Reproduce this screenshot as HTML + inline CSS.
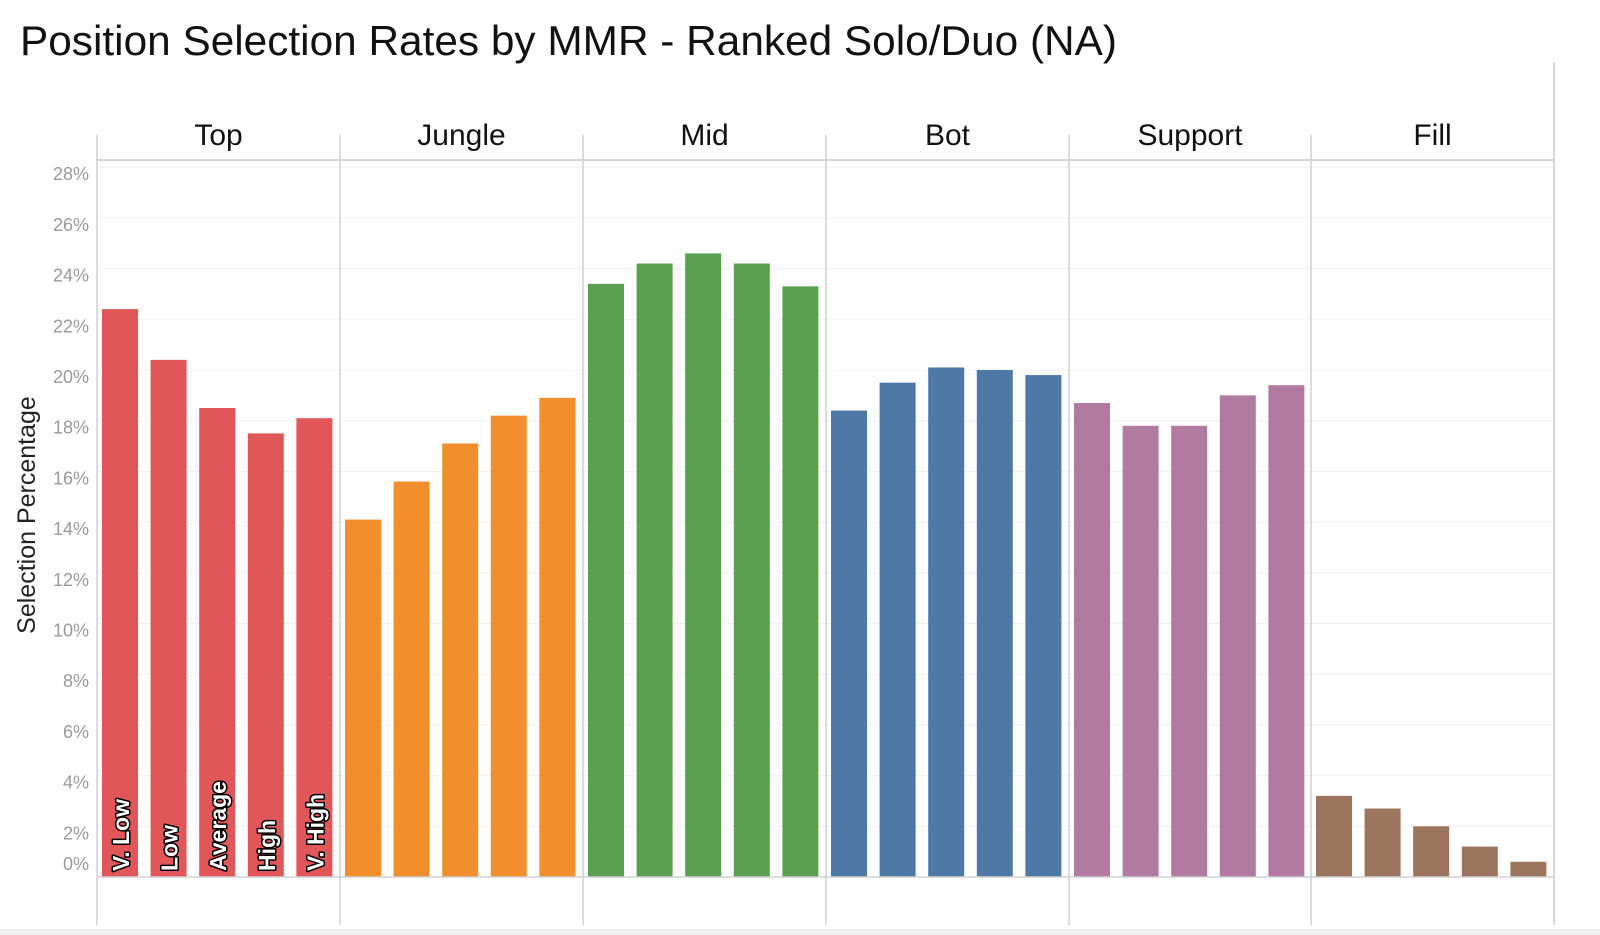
<!DOCTYPE html>
<html><head><meta charset="utf-8"><style>body{margin:0;background:#fff}svg{display:block}</style></head><body>
<svg width="1600" height="935" xmlns="http://www.w3.org/2000/svg" font-family="Liberation Sans, sans-serif">
<rect width="1600" height="935" fill="#fff"/>
<text x="20" y="55" font-size="42" textLength="1097" lengthAdjust="spacingAndGlyphs" fill="#111">Position Selection Rates by MMR - Ranked Solo/Duo (NA)</text>
<line x1="1554" y1="62" x2="1554" y2="925" stroke="#ddd" stroke-width="1.5"/>
<rect x="0" y="929" width="1600" height="6" fill="#f0f0f0"/>
<g id="grid" stroke="#f0f0f0" stroke-width="1"></g>
<line x1="97" y1="160" x2="1554" y2="160" stroke="#d8d8d8" stroke-width="2"/>
<g id="bars"></g>
<line x1="97" y1="877" x2="1554" y2="877" stroke="#d0d0d0" stroke-width="1.5"/>
<g id="panes" stroke="#d0d0d0" stroke-width="1.5"></g>
<g id="ticks" font-size="18" fill="#999" text-anchor="end"></g>
<text transform="translate(35,515) rotate(-90)" font-size="25" text-anchor="middle" fill="#222">Selection Percentage</text>
<g id="hdr" font-size="30" text-anchor="middle" fill="#111"></g>
<g id="lbl" font-size="23" font-weight="bold" fill="#fff" stroke="#000" stroke-width="3" paint-order="stroke" stroke-linejoin="round"></g>
</svg>
<script>
const NS="http://www.w3.org/2000/svg";
function el(p,t,a,txt){const e=document.createElementNS(NS,t);for(const k in a)e.setAttribute(k,a[k]);if(txt)e.textContent=txt;document.getElementById(p).appendChild(e);}
const base=877,per=25.35;
for(let v=2;v<=28;v+=2){const y=base-v*per;el('grid','line',{x1:97,x2:1554,y1:y,y2:y});}
for(let v=0;v<=28;v+=2){const y=base-v*per+(v==0?-7:13);el('ticks','text',{x:89,y:y},v+'%');}
const div=[97,340,583,826,1069,1311,1554];
div.forEach((x,i)=>el('panes','line',{x1:x,x2:x,y1:(i==6?62:135),y2:925}));
const names=['Top','Jungle','Mid','Bot','Support','Fill'];
const cols=['#e15759','#f28e2b','#59a14f','#4e79a7','#b07aa1','#9c755f'];
const data=[[22.4,20.4,18.5,17.5,18.1],[14.1,15.6,17.1,18.2,18.9],[23.4,24.2,24.6,24.2,23.3],[18.4,19.5,20.1,20.0,19.8],[18.7,17.8,17.8,19.0,19.4],[3.2,2.7,2.0,1.2,0.6]];
const lab=['V. Low','Low','Average','High','V. High'];
names.forEach((n,i)=>{const x0=div[i];el('hdr','text',{x:(x0+div[i+1])/2,y:145},n);
data[i].forEach((v,j)=>{const x=x0+5+j*48.6,h=v*per;el('bars','rect',{x:x,y:base-h,width:36,height:h,fill:cols[i]});
if(i==0)el('lbl','text',{transform:`translate(${x+27},${base-6}) rotate(-90)`},lab[j]);});});
</script>
</body></html>
